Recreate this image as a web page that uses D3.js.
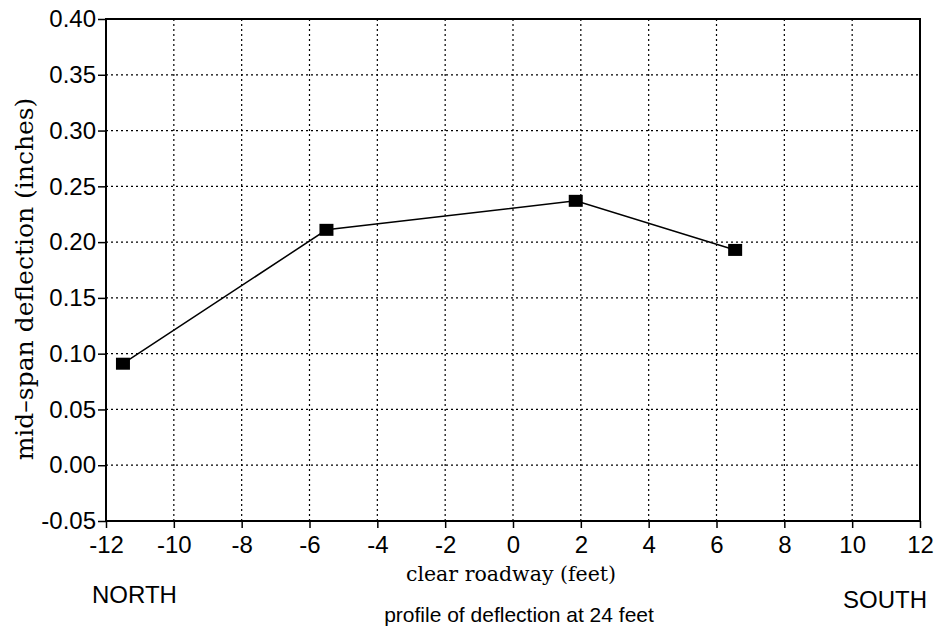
<!DOCTYPE html>
<html>
<head>
<meta charset="utf-8">
<script src="https://cdn.jsdelivr.net/npm/d3@7"></script>
<style>
  body { margin: 0; background: #fff; }
  svg { display: block; }
</style>
</head>
<body>
<div id="chart"></div>
<script>
var outerWidth = 941,
    outerHeight = 639
var margin = { top: 19, right: 21, bottom: 118, left: 106 }
var innerWidth = outerWidth - margin.left - margin.right
var innerHeight = outerHeight - margin.top - margin.bottom

// clear roadway position (feet) and measured mid-span deflection (inches)
var positions = [-11.5, -5.5, 1.85, 6.55]
var deflections = [0.091, 0.211, 0.237, 0.193]
var xTicks = [-12, -10, -8, -6, -4, -2, 0, 2, 4, 6, 8, 10, 12]
var yTicks = [-0.05, 0.00, 0.05, 0.10, 0.15, 0.20, 0.25, 0.30, 0.35, 0.40]

var data = positions.map(function(p, i) { return { x: p, y: deflections[i] } })

var svg = d3.select("#chart")
    .append("svg")
    .attr("width", outerWidth)
    .attr("height", outerHeight)

var plot = svg.append("g")
    .attr("transform", "translate(" + margin.left + "," + margin.top + ")")

var xScale = d3.scaleLinear().domain([-12, 12]).range([0, innerWidth])
var yScale = d3.scaleLinear().domain([-0.05, 0.40]).range([innerHeight, 0])

// dotted grid
plot.append("g")
    .selectAll("line")
    .data(xTicks.slice(1, -1))
    .join("line")
    .attr("x1", d => xScale(d)).attr("x2", d => xScale(d))
    .attr("y1", 0).attr("y2", innerHeight)
    .attr("stroke", "#000")
    .attr("stroke-width", 1.2)
    .attr("stroke-dasharray", "2,3")

plot.append("g")
    .selectAll("line")
    .data(yTicks.slice(1, -1))
    .join("line")
    .attr("y1", d => yScale(d)).attr("y2", d => yScale(d))
    .attr("x1", 0).attr("x2", innerWidth)
    .attr("stroke", "#000")
    .attr("stroke-width", 1.2)
    .attr("stroke-dasharray", "2,3")

// axes
var minus = s => s.replace("\u2212", "-")

var xAxis = plot.append("g")
    .attr("transform", "translate(0," + innerHeight + ")")
    .call(d3.axisBottom(xScale).tickValues(xTicks).tickSize(7).tickPadding(8)
        .tickFormat(d => minus(d3.format("d")(d))))

var yAxis = plot.append("g")
    .call(d3.axisLeft(yScale).tickValues(yTicks).tickSize(8).tickPadding(2)
        .tickFormat(d => minus(d3.format(".2f")(d))))

xAxis.attr("font-family", "'Liberation Sans', Arial, sans-serif").attr("font-size", 24)
yAxis.attr("font-family", "'Liberation Sans', Arial, sans-serif").attr("font-size", 24)
xAxis.selectAll("text").attr("fill", "#000")
yAxis.selectAll("text").attr("fill", "#000")
xAxis.selectAll("line").attr("stroke", "#000").attr("stroke-width", 1.5)
yAxis.selectAll("line").attr("stroke", "#000").attr("stroke-width", 1.5)
xAxis.select(".domain").remove()
yAxis.select(".domain").remove()

// frame
plot.append("rect")
    .attr("x", 0).attr("y", 0)
    .attr("width", innerWidth).attr("height", innerHeight)
    .attr("fill", "none")
    .attr("stroke", "#000")
    .attr("stroke-width", 2)

// data line + square markers
var line = d3.line()
    .x(d => xScale(d.x))
    .y(d => yScale(d.y))

plot.append("path")
    .datum(data)
    .attr("d", line)
    .attr("fill", "none")
    .attr("stroke", "#000")
    .attr("stroke-width", 1.5)

plot.selectAll(".marker")
    .data(data)
    .join("rect")
    .attr("class", "marker")
    .attr("x", d => xScale(d.x) - 7)
    .attr("y", d => yScale(d.y) - 6)
    .attr("width", 14)
    .attr("height", 12)
    .attr("fill", "#000")

// titles
svg.append("text")
    .attr("transform", "translate(33,279) rotate(-90)")
    .attr("text-anchor", "middle")
    .attr("font-family", "'DejaVu Serif', serif")
    .attr("font-size", "25px")
    .text("mid\u2013span deflection (inches)")

svg.append("text")
    .attr("x", 511).attr("y", 581)
    .attr("text-anchor", "middle")
    .attr("font-family", "'DejaVu Serif', serif")
    .attr("font-size", "20.5px")
    .text("clear roadway (feet)")

svg.append("text")
    .attr("x", 519).attr("y", 622)
    .attr("text-anchor", "middle")
    .attr("font-family", "'Liberation Sans', Arial, sans-serif")
    .attr("font-size", "21px")
    .text("profile of deflection at 24 feet")

svg.append("text")
    .attr("x", 92).attr("y", 603)
    .attr("font-family", "'Liberation Sans', Arial, sans-serif")
    .attr("font-size", "24px")
    .text("NORTH")

svg.append("text")
    .attr("x", 843).attr("y", 608)
    .attr("font-family", "'Liberation Sans', Arial, sans-serif")
    .attr("font-size", "24px")
    .text("SOUTH")
</script>
</body>
</html>
